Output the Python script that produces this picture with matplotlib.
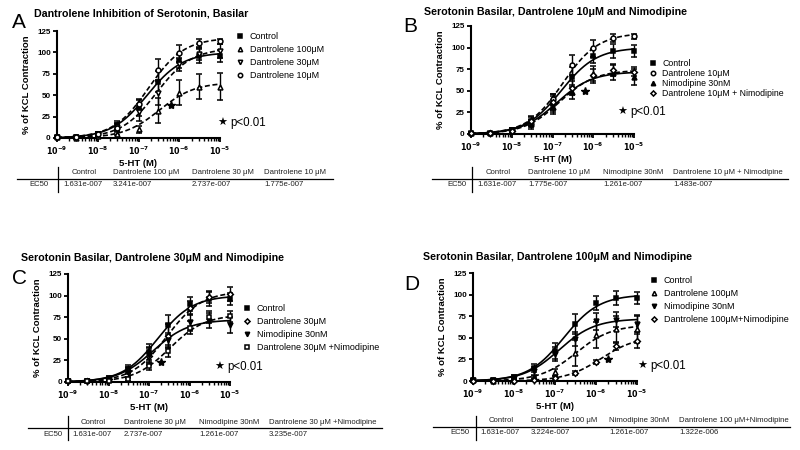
import numpy as np
import matplotlib
matplotlib.use("Agg")
from matplotlib import pyplot as plt
from matplotlib.lines import Line2D

plt.rcParams['font.family'] = ['Liberation Sans', 'DejaVu Sans']

# 5-HT doses (M)
dose = [1e-9, 3e-9, 1e-8, 3e-8, 1e-7, 3e-7, 1e-6, 3e-6, 1e-5]

# mean % of KCl contraction and error bars
control = [1, 1, 5, 15, 35, 66, 90, 96, 96]
control_err = [1, 1, 2, 5, 9, 12, 8, 8, 7]
dan100 = [1, 0, 2, 5, 10, 32, 53, 60, 60]
dan100_err = [1, 1, 1, 2, 4, 15, 15, 15, 16]
dan30 = [1, 1, 3, 13, 30, 53, 86, 98, 102]
dan30_err = [1, 1, 2, 4, 10, 14, 8, 7, 8]
dan10 = [1, 1, 5, 12, 40, 80, 99, 111, 113]
dan10_err = [1, 1, 2, 4, 6, 12, 10, 5, 3]
nimo = [1, 1, 3, 11, 31, 49, 69, 71, 66]
nimo_err = [1, 1, 2, 5, 8, 8, 10, 9, 9]
dan10_nimo = [1, 1, 4, 15, 37, 53, 68, 74, 72]
dan10_nimo_err = [1, 1, 2, 6, 9, 8, 7, 7, 5]
dan30_nimo = [1, 1, 1, 3, 18, 36, 63, 75, 76]
dan30_nimo_err = [1, 1, 1, 2, 4, 7, 8, 7, 6]
dan100_nimo = [0, 0, 0, 1, 4, 9, 22, 40, 46]
dan100_nimo_err = [1, 1, 1, 1, 2, 2, 2, 4, 8]

# fitted EC50 (from the tables) and plateau of the fitted curves
ec50 = {"control": 1.631e-7, "dan100": 3.241e-7, "dan30": 2.737e-7, "dan10": 1.775e-7,
        "nimo": 1.261e-7, "dan10_nimo": 1.483e-7, "dan30_nimo": 3.235e-7, "dan100_nimo": 1.322e-6}
top = {"control": 100, "dan100": 65, "dan30": 105, "dan10": 117,
       "nimo": 72, "dan10_nimo": 74, "dan30_nimo": 78, "dan100_nimo": 52}

values = {"control": (control, control_err), "dan100": (dan100, dan100_err),
          "dan30": (dan30, dan30_err), "dan10": (dan10, dan10_err),
          "nimo": (nimo, nimo_err), "dan10_nimo": (dan10_nimo, dan10_nimo_err),
          "dan30_nimo": (dan30_nimo, dan30_nimo_err), "dan100_nimo": (dan100_nimo, dan100_nimo_err)}

# table texts
table_A = (["Control", "Dantrolene 100 \u03bcM", "Dantrolene 30 \u03bcM", "Dantrolene 10 \u03bcM"],
           ["1.631e-007", "3.241e-007", "2.737e-007", "1.775e-007"])
table_B = (["Control", "Dantrolene 10 \u03bcM", "Nimodipine 30nM", "Dantrolene 10 \u03bcM + Nimodipine"],
           ["1.631e-007", "1.775e-007", "1.261e-007", "1.483e-007"])
table_C = (["Control", "Dantrolene 30 \u03bcM", "Nimodipine 30nM", "Dantrolene 30 \u03bcM +Nimodipine"],
           ["1.631e-007", "2.737e-007", "1.261e-007", "3.235e-007"])
table_D = (["Control", "Dantrolene 100 \u03bcM", "Nimodipine 30nM", "Dantrolene 100 \u03bcM+Nimodipine"],
           ["1.631e-007", "3.224e-007", "1.261e-007", "1.322e-006"])
table_data = {"A": table_A, "B": table_B, "C": table_C, "D": table_D}

W, H = 800, 450
NARROW = ['Liberation Sans Narrow', 'Liberation Sans']


def fx(x):
    return x / W


def fy(y):
    return 1 - y / H


def hill(x, ec, tp):
    return tp / (1 + ec / x)


def panel(fig, rect, series, title, letter, tpos, lpos, star, ppos, leg, table):
    x0, y0, x1, y1 = rect
    ax = fig.add_axes([fx(x0), fy(y1), fx(x1 - x0), (y1 - y0) / H])
    xs = np.logspace(-9, -5, 200)
    handles = []
    labels = []
    for key, label, marker, filled, ls in series:
        y, e = values[key]
        ax.plot(xs, hill(xs, ec50[key], top[key]), color='k', lw=1.2,
                ls=ls, dashes=(3, 1.6) if ls == '--' else (None, None), clip_on=False)
        fc = 'k' if filled else 'white'
        ms = 2.9 if marker == 'D' else 3.5
        ax.errorbar(dose, y, yerr=e, fmt=marker, color='k', mfc=fc, mec='k',
                    ms=ms, mew=1.1, elinewidth=1.0, capsize=2.2, capthick=1.0,
                    clip_on=False, zorder=3)
        handles.append(Line2D([], [], marker=marker, ls='none', color='k', mfc=fc,
                              mec='k', ms=ms * 0.9, mew=1.1))
        labels.append(label)
    ax.plot([star[0]], [star[1]], marker='*', color='k', ms=6, ls='none', clip_on=False)
    ax.set_xscale('log')
    ax.set_xlim(1e-9, 1e-5)
    ax.set_ylim(0, 125)
    ax.set_yticks([0, 25, 50, 75, 100, 125])
    ax.set_xticks([1e-9, 1e-8, 1e-7, 1e-6, 1e-5])
    ax.set_xticklabels([r'$\mathbf{10^{-%d}}$' % k for k in [9, 8, 7, 6, 5]])
    for s in ['top', 'right']:
        ax.spines[s].set_visible(False)
    for s in ['left', 'bottom']:
        ax.spines[s].set_linewidth(1.5)
    ax.tick_params(axis='both', which='major', length=3, width=1.3, labelsize=5.8, pad=1.5)
    ax.tick_params(axis='x', which='minor', length=2, width=1.0)
    for t in ax.get_yticklabels():
        t.set_fontweight('bold')
    ax.set_xlabel('5-HT (M)', fontsize=6.8, fontweight='bold', labelpad=2)
    ax.set_ylabel('% of KCL Contraction', fontsize=6.8, fontweight='bold', labelpad=4)

    fig.text(fx(tpos[0]), fy(tpos[1]), title, fontsize=7.7, fontweight='bold', va='center')
    fig.text(fx(letter[1]), fy(letter[2]), letter[0], fontsize=15, va='center')
    fig.legend(handles, labels, loc='upper left', bbox_to_anchor=(fx(lpos[0]), fy(lpos[1])),
               frameon=False, fontsize=leg[0], handlelength=0.6, handletextpad=0.8,
               labelspacing=leg[1], borderpad=0, borderaxespad=0)
    fig.text(fx(ppos[0]), fy(ppos[1]), '\u2605', fontsize=8, va='center', ha='center',
             family=['DejaVu Sans'])
    fig.text(fx(ppos[0] + 8), fy(ppos[1]), 'p<0.01', fontsize=8.3, va='center')

    # EC50 table
    vx, ytop, ymid, ybot, hl, hr, ex, cols = table
    heads, vals = table_data[letter[0]]
    fig.add_artist(Line2D([fx(vx), fx(vx)], [fy(ytop), fy(ybot)], color='k', lw=0.9))
    fig.add_artist(Line2D([fx(hl), fx(hr)], [fy(ymid), fy(ymid)], color='k', lw=0.9))
    fig.text(fx(ex), fy(ymid + 6), 'EC50', fontsize=5.6, va='center', color='#222222',
             family=NARROW)
    for i, (hd, vl) in enumerate(zip(heads, vals)):
        hxp = cols[i] + (9 if i == 0 else 0)
        fig.text(fx(hxp), fy(ymid - 6), hd, fontsize=5.6, va='center', color='#222222',
                 family=NARROW)
        fig.text(fx(cols[i]), fy(ymid + 6), vl, fontsize=5.6, va='center', color='#222222',
                 family=NARROW)
    return ax


fig = plt.figure(figsize=(8, 4.5), dpi=100)

panel(fig, (57, 31, 220, 138),
      [("control", "Control", 's', True, '-'),
       ("dan100", "Dantrolene 100\u03bcM", '^', False, '--'),
       ("dan30", "Dantrolene 30\u03bcM", 'v', False, '--'),
       ("dan10", "Dantrolene 10\u03bcM", 'o', False, '--')],
      "Dantrolene Inhibition of Serotonin, Basilar", ("A", 12, 22), (34, 14),
      (237, 32), (6.3e-7, 38), (222, 123), (6.5, 0.45),
      (58, 167, 179, 192, 17, 333, 29, [63, 113, 192, 264]))

panel(fig, (471, 26, 634, 134),
      [("control", "Control", 's', True, '-'),
       ("dan10", "Dantrolene 10\u03bcM", 'o', False, '--'),
       ("nimo", "Nimodipine 30nM", '^', True, '-'),
       ("dan10_nimo", "Dantrolene 10\u03bcM + Nimodipine", 'D', False, '--')],
      "Serotonin Basilar, Dantrolene 10\u03bcM and Nimodipine", ("B", 403, 26), (424, 12),
      (650, 59), (6.4e-7, 50), (622, 112), (6.3, 0.12),
      (472, 167, 179, 192, 432, 788, 447, [477, 528, 603, 673]))

panel(fig, (68, 274, 230, 382),
      [("control", "Control", 's', True, '-'),
       ("dan30", "Dantrolene 30\u03bcM", 'D', False, '--'),
       ("nimo", "Nimodipine 30nM", 'v', True, '-'),
       ("dan30_nimo", "Dantrolene 30\u03bcM +Nimodipine", 's', False, '--')],
      "Serotonin Basilar, Dantrolene 30\u03bcM and Nimodipine", ("C", 12, 278), (21, 258),
      (244, 304), (2e-7, 23), (219, 367), (6.5, 0.45),
      (68, 416, 428, 440, 28, 382, 43, [72, 124, 199, 269]))

panel(fig, (473, 273, 637, 381),
      [("control", "Control", 's', True, '-'),
       ("dan100", "Dantrolene 100\u03bcM", '^', False, '--'),
       ("nimo", "Nimodipine 30nM", 'v', True, '-'),
       ("dan100_nimo", "Dantrolene 100\u03bcM+Nimodipine", 'D', False, '--')],
      "Serotonin Basilar, Dantrolene 100\u03bcM and Nimodipine", ("D", 404, 284), (423, 257),
      (651, 276), (1.95e-6, 25), (642, 366), (6.5, 0.45),
      (476, 416, 427, 440, 433, 790, 450, [480, 531, 609, 679]))

fig.savefig("out.png", dpi=100)
